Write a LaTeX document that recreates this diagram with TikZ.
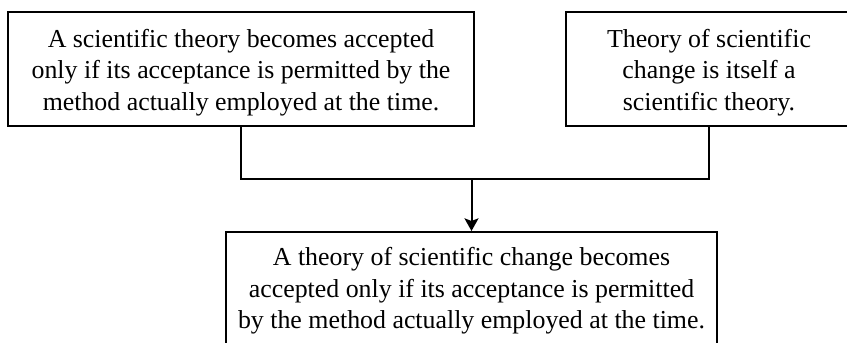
\documentclass[tikz,border=0pt]{standalone}
\usepackage{fontspec}
\setmainfont{Liberation Serif}
\usetikzlibrary{arrows.meta}
\begin{document}
\begin{tikzpicture}[x=0.75pt,y=-0.75pt,
  frame/.style={draw, line width=1.5pt, inner sep=0pt},
  words/.style={align=center, inner sep=0pt,
    font=\fontsize{19.4}{23.6}\selectfont},
  link/.style={line width=1.5pt},
  arrowlink/.style={link, -{Stealth[length=9.5pt,width=10.5pt,inset=2pt]}}]
  \useasboundingbox (0,0) rectangle (847,343);
  % frames; the right-hand one and the lower one run past the page edge
  \node[frame, minimum width=466*0.75pt, minimum height=114*0.75pt] (f1) at (241,69) {};
  \node[frame, minimum width=300*0.75pt, minimum height=114*0.75pt] (f2) at (716,69) {};
  \node[frame, minimum width=491*0.75pt, minimum height=120*0.75pt] (f3) at (471.5,292) {};
  % texts
  \node[words] (b1) at (241,72.5)
    {A scientific theory becomes accepted\\only if its acceptance is permitted by the\\method actually employed at the time.};
  \node[words] (b2) at (709,72.5)
    {Theory of scientific\\change is itself a\\scientific theory.};
  \node[words] (b3) at (471.5,291)
    {A theory of scientific change becomes\\accepted only if its acceptance is permitted\\by the method actually employed at the time.};
  % joining bracket and arrow
  \coordinate (j) at (471.5,179);
  \draw[link] (f1.south) |- (j) -| (f2.south -| b2);
  \draw[arrowlink] (j) -- (f3.north);
\end{tikzpicture}
\end{document}
